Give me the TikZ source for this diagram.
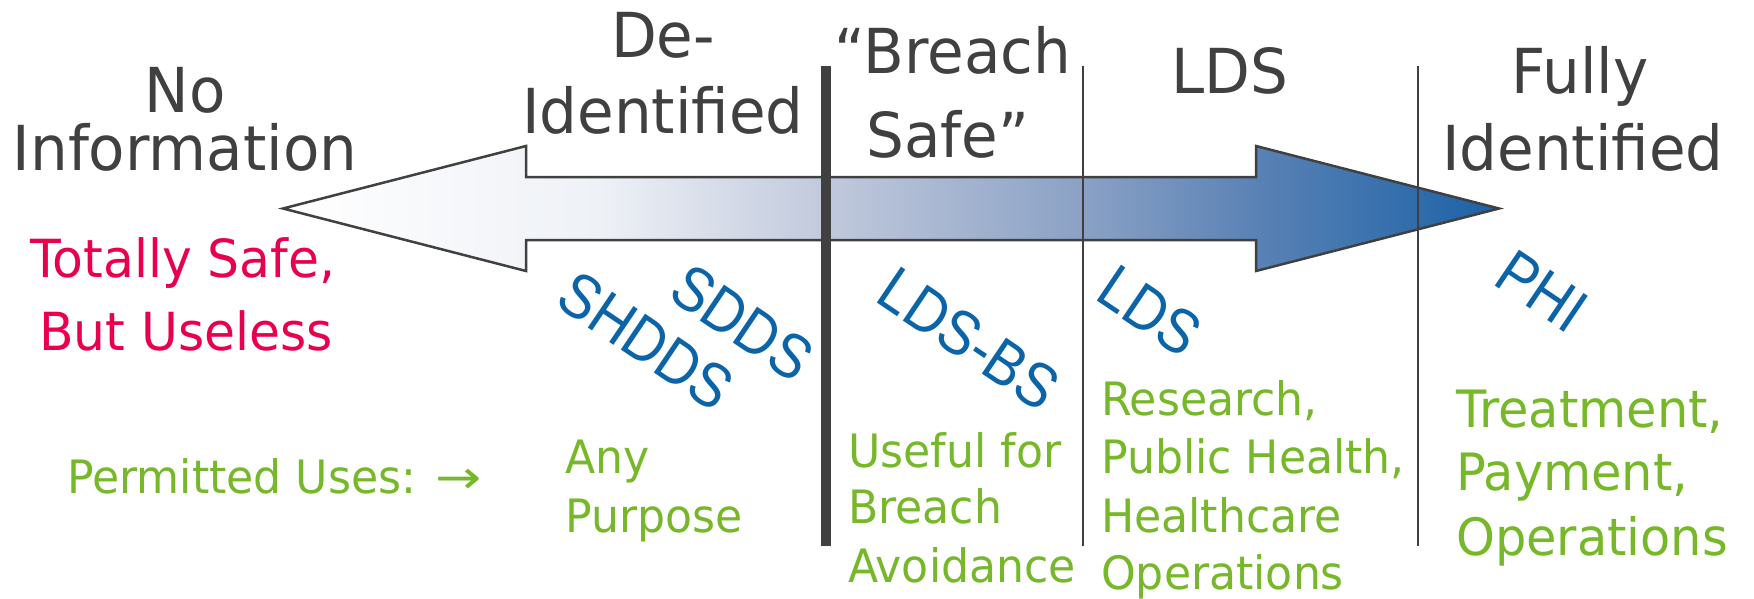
\documentclass[tikz,border=0pt]{standalone}
\usepackage{fontspec}
\setmainfont{DejaVu Sans}[FakeStretch=0.96]
\newfontfamily\tagfont{Liberation Sans}[FakeStretch=0.88]

\definecolor{headgray}{HTML}{404040}
\definecolor{safered}{HTML}{E8004F}
\definecolor{usegreen}{HTML}{76B82A}
\definecolor{tagblue}{HTML}{0B64A8}
\definecolor{g0}{HTML}{FFFFFF}
\definecolor{g1}{HTML}{EEF1F6}
\definecolor{g2}{HTML}{C1C9DC}
\definecolor{g3}{HTML}{8AA1C5}
\definecolor{g4}{HTML}{5A82B5}
\definecolor{g5}{HTML}{2F6CAB}
\definecolor{g6}{HTML}{1C62A6}

% pale-to-blue ramp along the double arrow (TikZ maps 25bp..75bp onto the path)
\pgfdeclarehorizontalshading{spectrum}{100bp}{
  color(0bp)=(g0); color(25bp)=(g0); color(38bp)=(g1); color(47.3bp)=(g2);
  color(57.9bp)=(g3); color(65bp)=(g4); color(71.7bp)=(g5); color(75bp)=(g6);
  color(100bp)=(g6)}

\tikzset{
  hdr/.style={text=headgray, font=\fontsize{62}{62}\selectfont, anchor=base, inner sep=0pt},
  redtxt/.style={text=safered, font=\fontsize{52.5}{52.5}\selectfont, anchor=base, inner sep=0pt},
  usetxt/.style={text=usegreen, font=\fontsize{46}{46}\selectfont, anchor=base west, inner sep=0pt},
  usebig/.style={usetxt, font=\fontsize{51.5}{51.5}\selectfont},
  tag/.style={text=tagblue, font=\tagfont\fontsize{63}{63}\selectfont, rotate=-34, inner sep=0pt},
  divider/.style={draw=headgray, line width=2pt},
  bar/.style={draw=headgray, line width=10pt},
}

\begin{document}
\begin{tikzpicture}[x=1pt, y=-1pt]
\useasboundingbox (0,0) rectangle (1754,598);

% double-headed arrow
\draw[headgray, line width=2.5pt, line join=miter, shading=spectrum]
  (283,208.5) -- (526,146) -- (526,177) -- (1256,177) -- (1256,146)
  -- (1499,208.5) -- (1256,271) -- (1256,240) -- (526,240) -- (526,271) -- cycle;

% category dividers
\coordinate (b1) at (826,66);  \coordinate (b2) at (826,546);
\coordinate (d1) at (1083,66); \coordinate (d2) at (1083,546);
\coordinate (e1) at (1418,66); \coordinate (e2) at (1418,546);
\draw[bar] (b1) -- (b2);
\draw[divider] (d1) -- (d2);
\draw[divider] (e1) -- (e2);

% column headings
\node[hdr] (no)   at (185,112) {No};
\node[hdr] (info) at (185,170) {Information};
\node[hdr] (de)   at (663,57)  {De-};
\node[hdr] (ident) at (663,133) {Identified};
\node[hdr] (breach) at (953,73) {“Breach};
\node[hdr] (safe) at (948,157) {Safe”};
\node[hdr] (lds)  at (1230,93) {LDS};
\node[hdr] (fully) at (1580,93) {Fully};
\node[hdr] (fident) at (1583,170) {Identified};

% verdict
\node[redtxt] (tsafe) at (183,277) {Totally Safe,};
\node[redtxt] (useless) at (186,350) {But Useless};

% data set tags
\node[tag] (shdds) at (646,341) {SHDDS};
\node[tag] (sdds)  at (742,323) {SDDS};
\node[tag] (ldsbs) at (969,339) {LDS-BS};
\node[tag] (ldst)  at (1150,311) {LDS};
\node[tag] (phi)   at (1542,291) {PHI};

% permitted uses
\node[usetxt] (perm) at (67,493) {Permitted Uses: \scalebox{1.25}[1]{→}};
\node[usetxt] (any)  at (565,473) {Any};
\node[usetxt] (purp) at (565,532) {Purpose};
\node[usetxt] (uf)   at (848,467) {Useful for};
\node[usetxt] (br)   at (848,523) {Breach};
\node[usetxt] (av)   at (848,582) {Avoidance};
\node[usetxt] (res)  at (1101,415) {Research,};
\node[usetxt] (ph)   at (1101,473) {Public Health,};
\node[usetxt] (hc)   at (1101,532) {Healthcare};
\node[usetxt] (ops)  at (1101,589) {Operations};
\node[usebig] (treat) at (1456,427) {Treatment,};
\node[usebig] (pay)  at (1456,490) {Payment,};
\node[usebig] (ops2) at (1456,555) {Operations};
\end{tikzpicture}
\end{document}
